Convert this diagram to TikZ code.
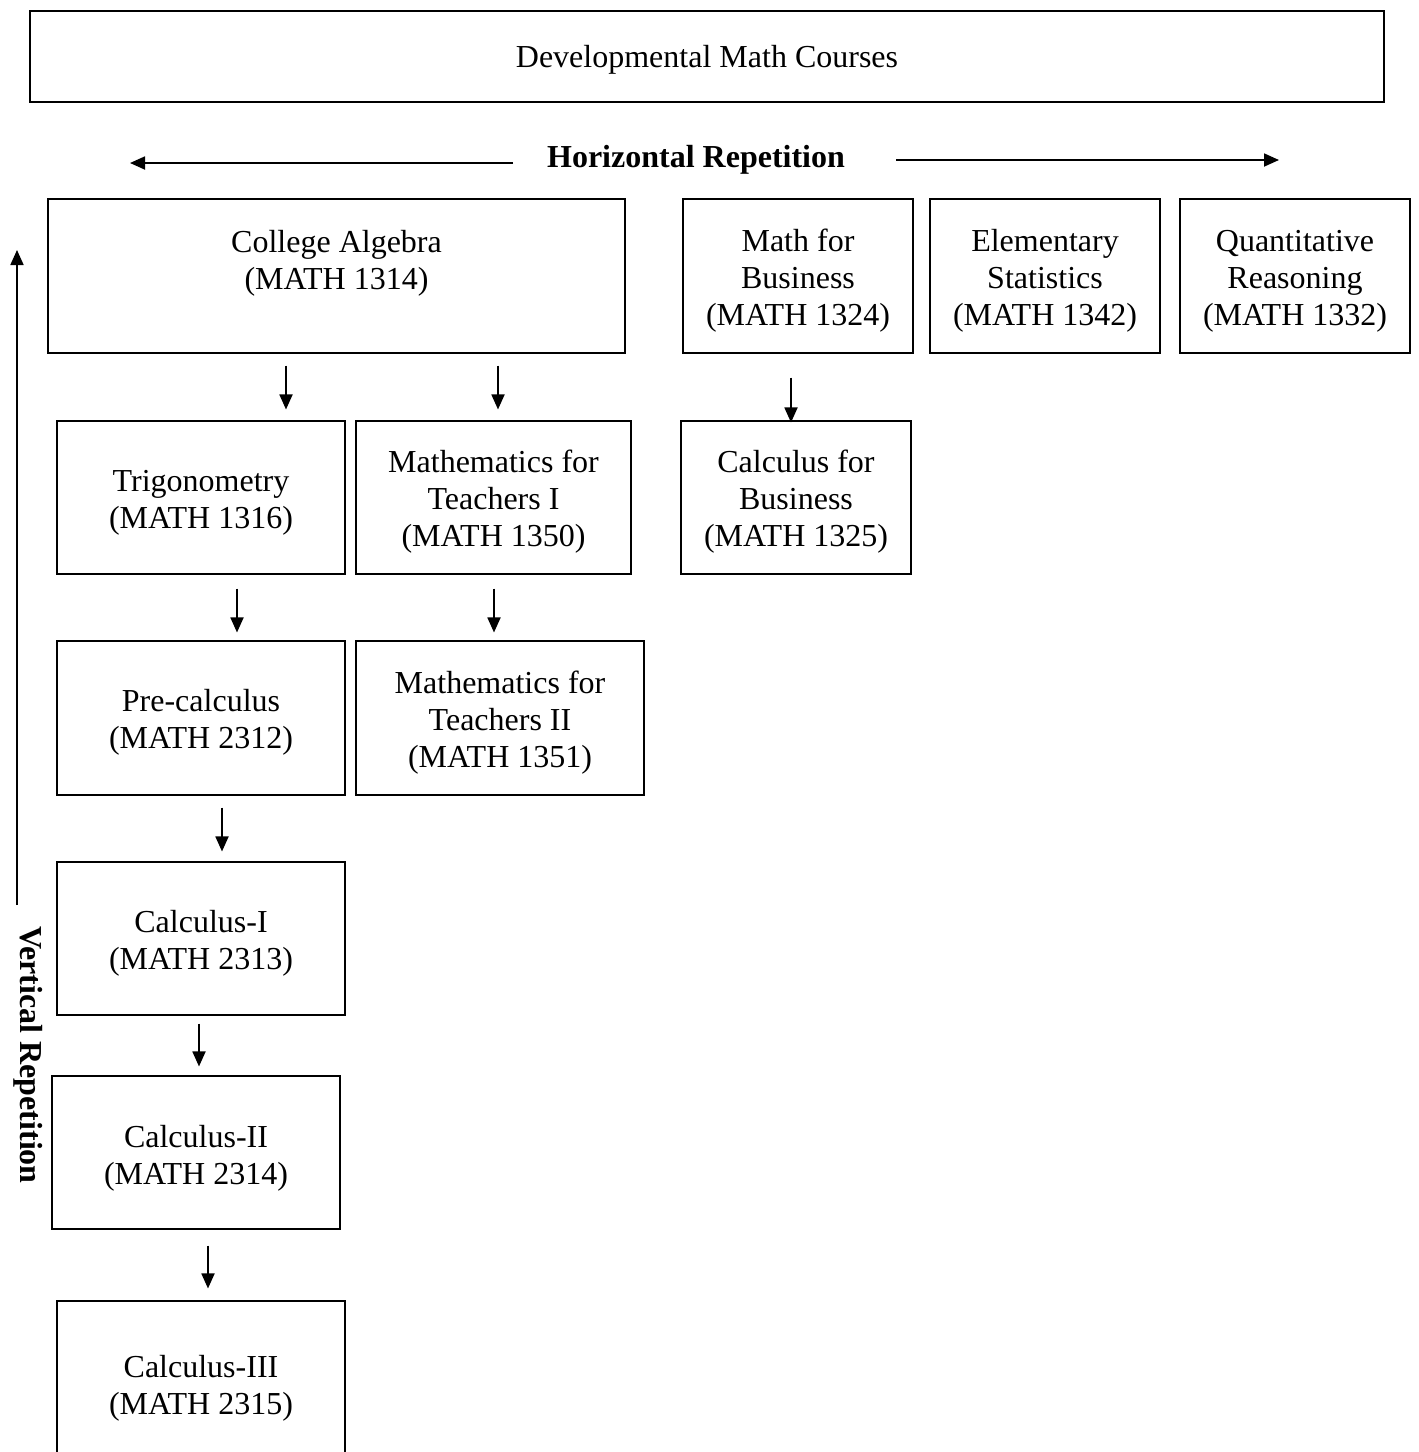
\documentclass[tikz,border=0pt]{standalone}
\usepackage{fontspec}
\setmainfont{Liberation Serif}
\usetikzlibrary{arrows.meta}
\begin{document}
\begin{tikzpicture}[x=1pt,y=-1pt,
  box/.style={draw=black,line width=1.1pt,inner sep=0pt},
  txt/.style={align=center,font=\fontsize{32}{37}\selectfont,inner sep=0pt,yshift=-4pt},
  btxt/.style={font=\fontsize{32}{37}\selectfont\bfseries,inner sep=0pt},
  arr/.style={line width=1.8pt,-{Triangle[length=15pt,width=13pt]}}]
\clip (0,0) rectangle (1419,1452);
\fill[white] (0,0) rectangle (1419,1452);
% boxes
\node[box,minimum width=1354,minimum height=91] (dev) at (707,56.5) {};
\node[txt] at (707,56) {Developmental Math Courses};
\node[box,minimum width=577,minimum height=154] (ca) at (336.5,276) {};
\node[txt] at (336.5,259) {College Algebra\\(MATH 1314)};
\node[box,minimum width=230,minimum height=154] (mfb) at (798,276) {};
\node[txt] at (798,277) {Math for\\Business\\(MATH 1324)};
\node[box,minimum width=230,minimum height=154] (es) at (1045,276) {};
\node[txt] at (1045,277) {Elementary\\Statistics\\(MATH 1342)};
\node[box,minimum width=230,minimum height=154] (qr) at (1295,276) {};
\node[txt] at (1295,277) {Quantitative\\Reasoning\\(MATH 1332)};
\node[box,minimum width=288,minimum height=153] (trig) at (201,497.5) {};
\node[txt] at (201,498.5) {Trigonometry\\(MATH 1316)};
\node[box,minimum width=275,minimum height=153] (mt1) at (493.5,497.5) {};
\node[txt] at (493.5,498) {Mathematics for\\Teachers I\\(MATH 1350)};
\node[box,minimum width=230,minimum height=153] (cfb) at (796,497.5) {};
\node[txt] at (796,498) {Calculus for\\Business\\(MATH 1325)};
\node[box,minimum width=288,minimum height=154] (pre) at (201,718) {};
\node[txt] at (201,718.5) {Pre-calculus\\(MATH 2312)};
\node[box,minimum width=288,minimum height=154] (mt2) at (500,718) {};
\node[txt] at (500,719) {Mathematics for\\Teachers II\\(MATH 1351)};
\node[box,minimum width=288,minimum height=153] (c1) at (201,938.5) {};
\node[txt] at (201,939.5) {Calculus-I\\(MATH 2313)};
\node[box,minimum width=288,minimum height=153] (c2) at (196,1152.5) {};
\node[txt] at (196,1154) {Calculus-II\\(MATH 2314)};
\node[box,minimum width=288,minimum height=200] (c3) at (201,1401) {};
\node[txt] at (201,1384.5) {Calculus-III\\(MATH 2315)};
% headings
\node[btxt] (hr) at (696,160) {Horizontal Repetition};
\coordinate (hl) at (130,163);
\coordinate (hrr) at (1279,160);
\draw[arr] (513,163) -- (hl);
\draw[arr] (896,160) -- (hrr);
\node[btxt,rotate=-90] (vr) at (28,1055) {Vertical Repetition};
\coordinate (vtop) at (17,250);
\draw[arr] (17,905) -- (vtop);
% connectors
\draw[arr] ([xshift=-50.5pt,yshift=-12pt]ca.south) -- ([xshift=85pt,yshift=11pt]trig.north);
\draw[arr] ([xshift=161.5pt,yshift=-12pt]ca.south) -- ([xshift=4.5pt,yshift=11pt]mt1.north);
\draw[arr] ([xshift=-7pt,yshift=-24pt]mfb.south) -- ([xshift=-5pt,yshift=-2pt]cfb.north);
\draw[arr] ([xshift=36pt,yshift=-14pt]trig.south) -- ([xshift=36pt,yshift=8pt]pre.north);
\draw[arr] ([xshift=0.5pt,yshift=-14pt]mt1.south) -- ([xshift=-6pt,yshift=8pt]mt2.north);
\draw[arr] ([xshift=21pt,yshift=-12pt]pre.south) -- ([xshift=21pt,yshift=10pt]c1.north);
\draw[arr] ([xshift=-2pt,yshift=-8pt]c1.south) -- ([xshift=3pt,yshift=9pt]c2.north);
\draw[arr] ([xshift=12pt,yshift=-16pt]c2.south) -- ([xshift=7pt,yshift=12pt]c3.north);
\end{tikzpicture}
\end{document}
